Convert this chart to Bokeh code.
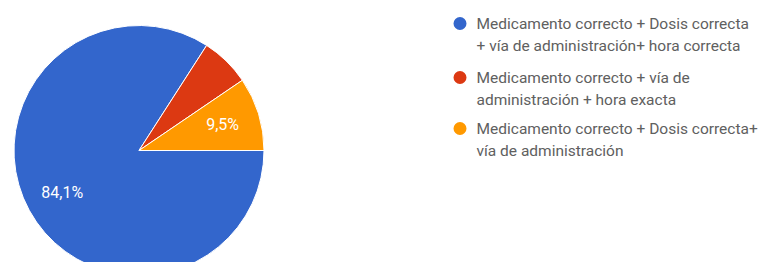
import math
from bokeh.plotting import figure
from bokeh.models import Range1d, ColumnDataSource
from bokeh.core.properties import value
from bokeh.embed import file_html
from bokeh.resources import INLINE

# ---- data ----
categories = [
    ["Medicamento correcto + Dosis correcta", "+ vía de administración+ hora correcta"],
    ["Medicamento correcto + vía de", "administración + hora exacta"],
    ["Medicamento correcto + Dosis correcta+", "vía de administración"],
]
percents = [84.1, 6.4, 9.5]
colors = ["#3366cc", "#dc3912", "#ff9900"]

W, H = 766, 262
# data coords == screenshot pixel coords (x right, y measured up from bottom 278)
p = figure(width=W, height=H, output_backend="svg", toolbar_location=None,
           x_range=Range1d(0, W), y_range=Range1d(278 - H, 278),
           min_border=0, outline_line_color=None)
p.axis.visible = False
p.grid.visible = False
p.background_fill_color = "white"
p.border_fill_color = "white"

def py(y):
    return 278 - y

cx, cy, r = 138.5, py(150), 125

total = sum(percents)
starts, ends, lx, ly, labels = [], [], [], [], []
cum = 0.0
for pc in percents:
    a0 = -2 * math.pi * cum / total
    cum += pc
    a1 = -2 * math.pi * cum / total
    starts.append(a1)
    ends.append(a0)
    mid = (a0 + a1) / 2
    lx.append(cx + 0.7 * r * math.cos(mid))
    ly.append(cy + 0.7 * r * math.sin(mid))
    labels.append(("%.1f%%" % pc).replace(".", ",") if pc >= 8 else "")

src = ColumnDataSource(dict(start=starts, end=ends, color=colors))
p.wedge(x=cx, y=cy, radius=r, start_angle="start", end_angle="end",
        direction="anticlock", fill_color="color", line_color="white",
        line_width=1, source=src)

p.text(x=lx, y=ly, text=labels, text_color="white", text_font=value("Roboto"),
       text_font_size="16px", text_align="center", text_baseline="middle")

# ---- legend ----
dot_x, text_x = 459.5, 476
first_y = [23, 77, 128]
line_gap = 22.5
for i, lines in enumerate(categories):
    p.scatter(x=[dot_x], y=[py(first_y[i])], size=13, fill_color=colors[i],
              line_color=None)
    ys = [py(first_y[i] + k * line_gap) for k in range(len(lines))]
    p.text(x=[text_x] * len(lines), y=ys, text=lines, text_color="#606060",
           text_font=value("Roboto"), text_font_size="15.5px",
           text_baseline="middle", text_align="left")

open("out.html", "w").write(file_html(p, INLINE))
